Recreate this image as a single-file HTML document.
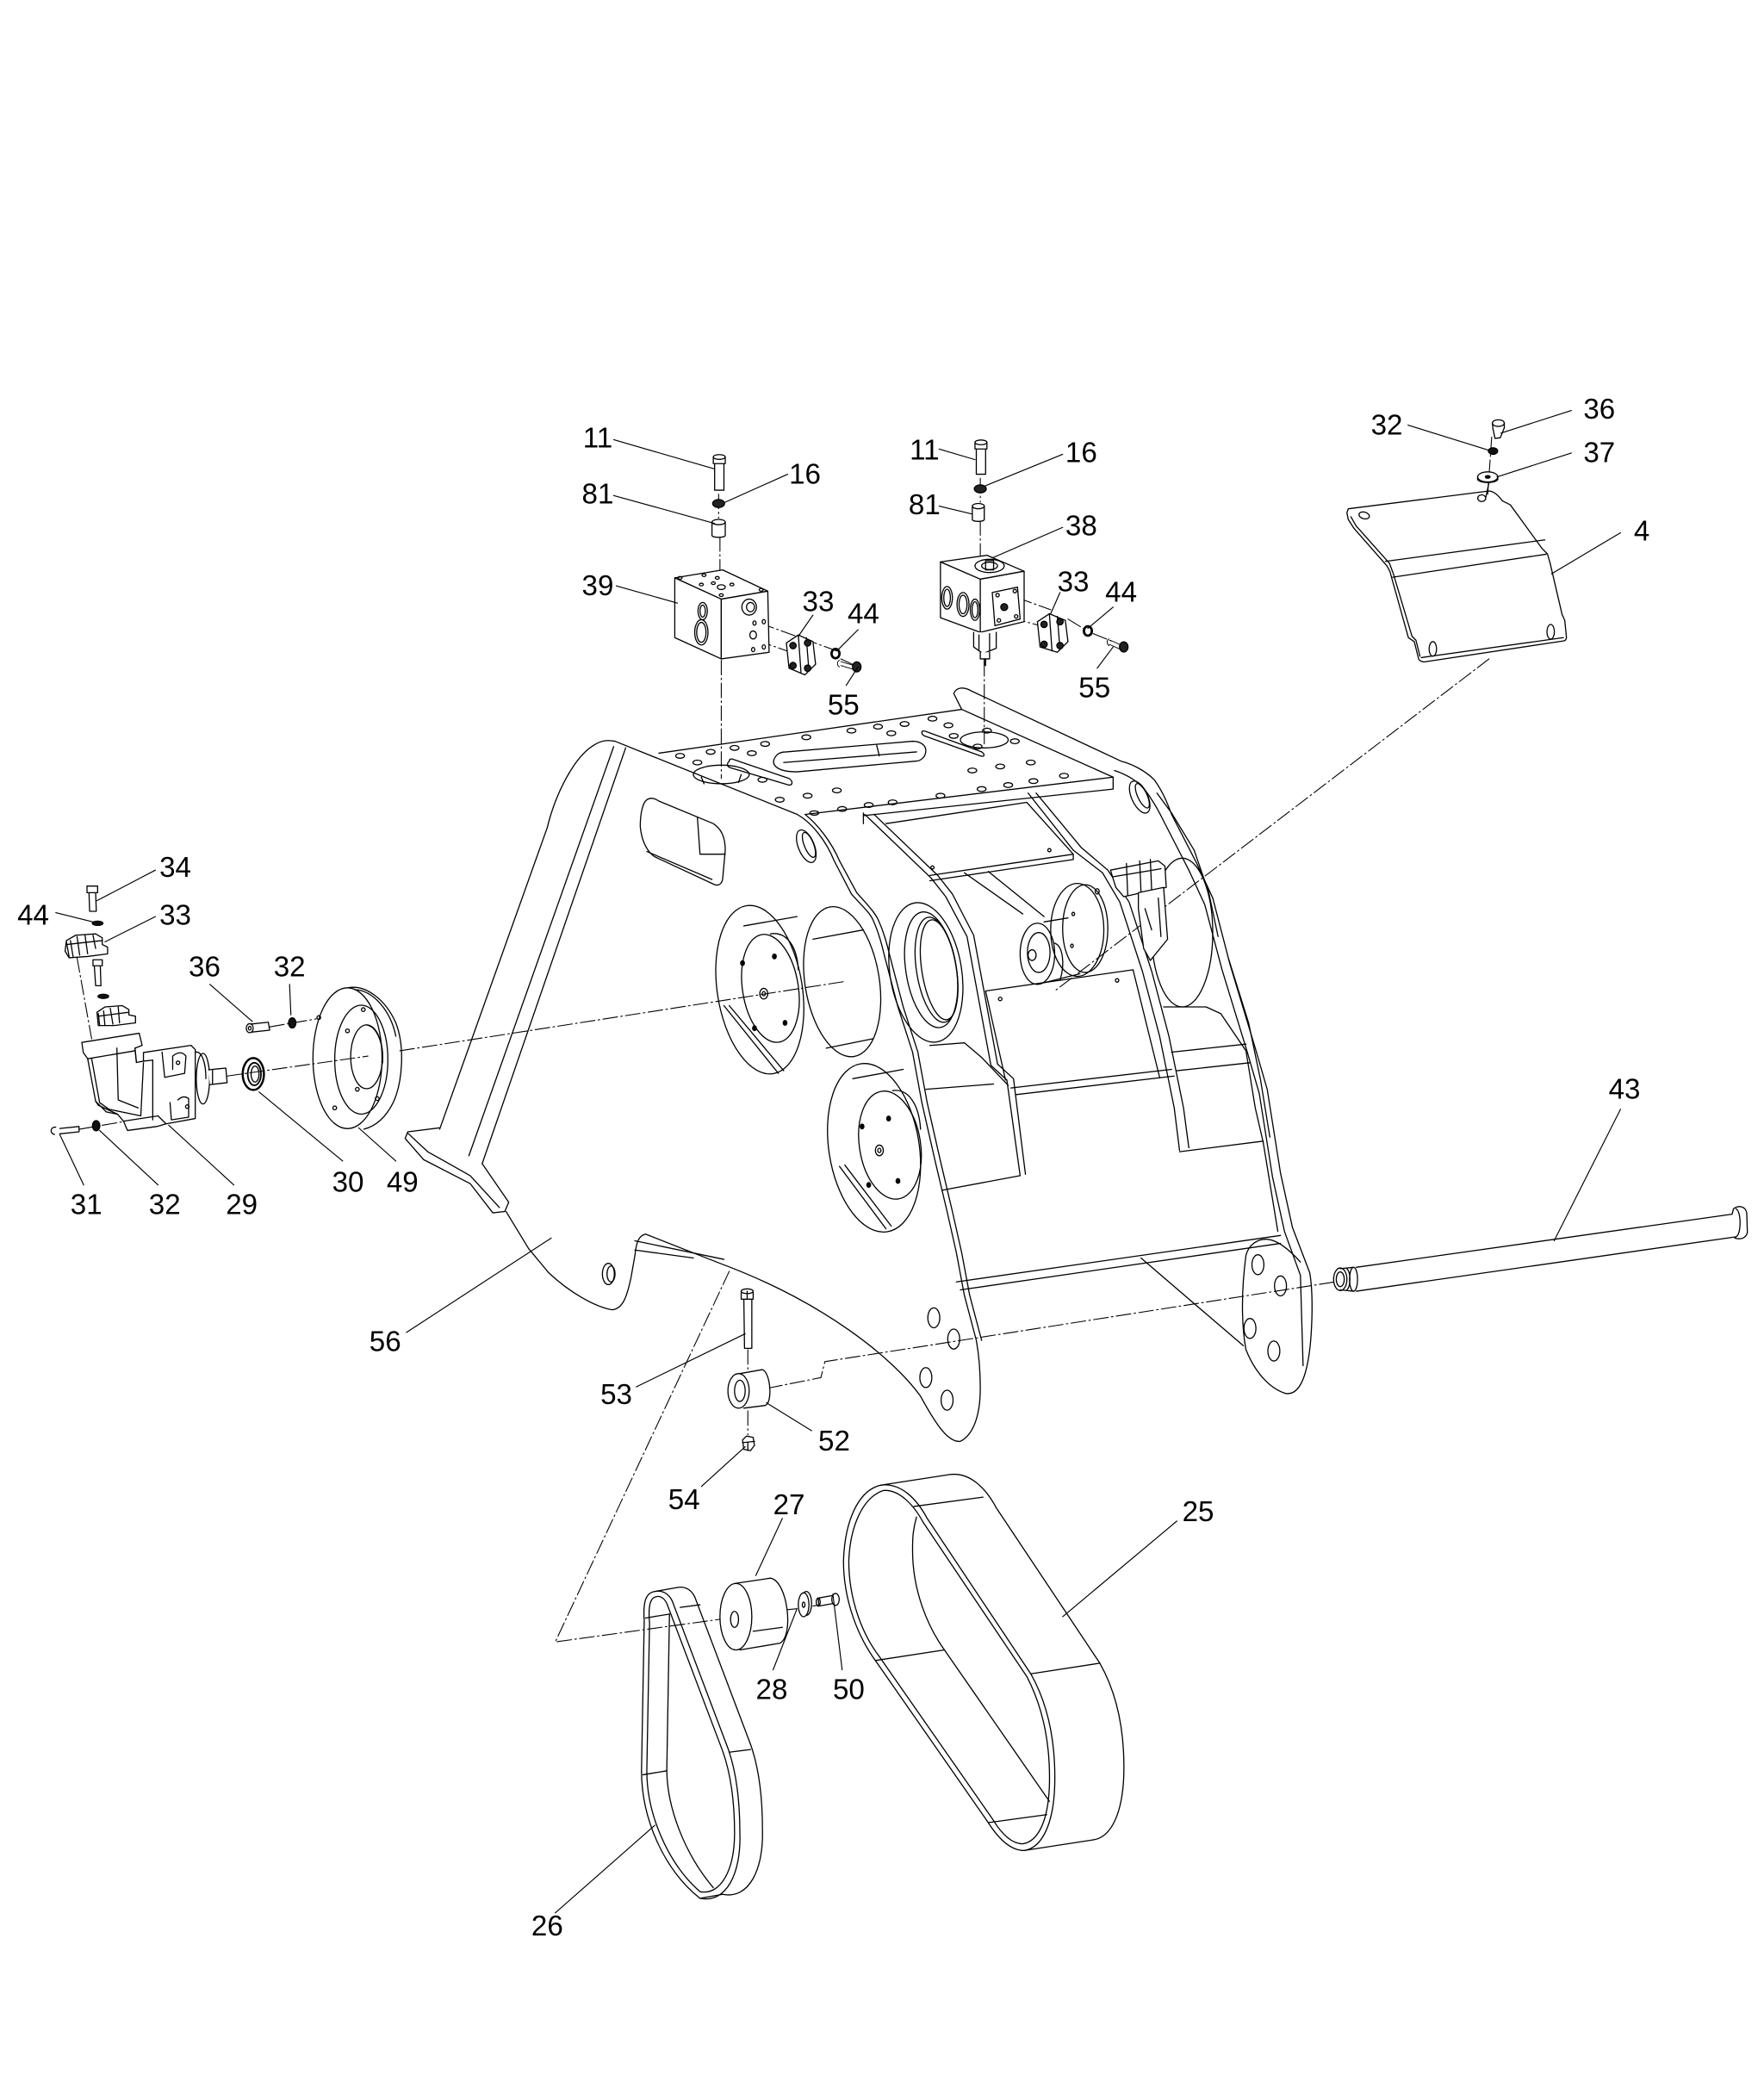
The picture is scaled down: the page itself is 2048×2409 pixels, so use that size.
<!DOCTYPE html>
<html><head><meta charset="utf-8"><style>
html,body{margin:0;padding:0;background:#fff}
svg{display:block}
text{font-family:"Liberation Sans",Arial,sans-serif;font-size:21.5px;fill:#000;text-anchor:middle;stroke:none}
</style></head><body>
<svg xmlns="http://www.w3.org/2000/svg" width="2048" height="2409" viewBox="0 0 1328 1562" preserveAspectRatio="none">
<rect width="1328" height="1562" fill="#fff"/>
<g fill="none" stroke="#000" stroke-width="0.85" stroke-linejoin="round" stroke-linecap="round">

<!-- ================= DASH-DOT CENTER LINES ================= -->
<g stroke-width="0.7" stroke-dasharray="11 2.5 1.2 2.5">
<path d="M541,372 L541,390"/><path d="M542,404 L542,430"/><path d="M543,497 L543,586"/>
<path d="M738,360 L738,378"/><path d="M738,392 L738,418"/><path d="M741,498 L741,560"/>
<path d="M572,469 L630,490"/><path d="M570,482 L598,492"/><path d="M633,496 L646,502"/>
<path d="M766,450 L791,459"/><path d="M804,466 L817,474"/><path d="M823,477 L838,483"/><path d="M761,465 L783,471"/>
<path d="M1121,496 L794,746"/>
<path d="M1123,329 L1120,372"/>
<path d="M171,810 L277,795"/><path d="M301,791 L635,739"/>
<path d="M203,773 L238,767"/>
<path d="M60,850 L95,844"/>
<path d="M58,721 L69,782"/>
<path d="M578,1045 L618,1037 L621,1025 L1005,965"/>
<path d="M549,957 L418,1236 L556,1217"/><path d="M590,1212 L600,1211"/><path d="M612,1209 L618,1208"/>
<path d="M563,1016 L563,1031"/><path d="M563,1062 L563,1080"/>
</g>

<!-- ================= MAIN FRAME ================= -->
<!-- front plate outline -->
<path d="M331,850 L412,623 C418,598 432,570 447,561 C453,557 458,557 463,558 L600,613 C611,619 622,633 628,648 L641,673 C648,681 654,686 657,692 C662,703 664,712 666,720 L676,758 L687,792 L694,830 L704,874 L713,912 L720,943 L726,975 L735,1009 C737,1020 738,1030 738,1045 C738,1065 733,1080 723,1085 C714,1086 705,1073 693,1051 C672,1022 620,980 542,951 L486,929 C481,930 479,935 478,945 L475,962 C472,976 469,985 461,986 C449,984 430,974 413,958 L398,940 L381,912"/>
<path d="M606,613 C616,621 626,634 632,648 L645,672 C652,680 658,686 661,692 C666,703 668,712 670,720 L680,758 L691,792 L698,830 L708,874 L717,912 L724,943 L730,975 L739,1009"/>
<path d="M462,562 L353,870"/><path d="M471,563 L363,876"/>
<!-- foot -->
<path d="M331,849 L307,852 L305,857 L319,873 L354,891 L371,913 L380,912 L383,905 L363,876"/>
<path d="M307,853 L322,867 L354,885 L376,909"/>
<!-- top-left oblong hole -->
<path d="M487,602 C490,600 493,601 496,603 L537,620 C543,624 546,630 546,640 L544,662 C543,667 539,667 536,665 L493,645 C488,642 483,634 482,622 C482,612 484,604 487,602 Z"/>
<path d="M525,615 L527,643 L546,643"/><path d="M487,641 L536,662"/>
<!-- small lug slot -->
<ellipse cx="607" cy="637" rx="6" ry="13" transform="rotate(-22 607 637)"/>
<ellipse cx="609" cy="636" rx="3.5" ry="10" transform="rotate(-22 609 636)"/>
<!-- lower left lug hole -->
<ellipse cx="458" cy="959" rx="4.5" ry="8"/><ellipse cx="460" cy="959" rx="3" ry="6"/>
<path d="M478,934 L545,948"/><path d="M478,941 L522,947"/>
<!-- lower right lug holes of front plate -->
<ellipse cx="703" cy="992" rx="4.5" ry="7.5"/><ellipse cx="718" cy="1008" rx="4.5" ry="7.5"/>
<ellipse cx="697" cy="1037" rx="4.5" ry="7.5"/><ellipse cx="713" cy="1054" rx="4.5" ry="7.5"/>

<!-- big openings -->
<ellipse cx="572" cy="745" rx="32" ry="64" transform="rotate(-9 572 745)"/>
<path d="M545,757 L586,808"/><path d="M549,757 L590,806"/>
<path d="M560,697 L600,690"/>
<ellipse cx="580" cy="744" rx="21" ry="41" transform="rotate(-9 580 744)"/>
<path d="M580,703 C592,701 600,712 601,730"/>
<ellipse cx="575" cy="748" rx="3" ry="4"/><ellipse cx="575" cy="748" rx="1.2" ry="1.6"/>
<ellipse cx="559" cy="725" rx="1.4" ry="1.8" fill="#000"/><ellipse cx="583" cy="720" rx="1.4" ry="1.8" fill="#000"/>
<ellipse cx="568" cy="774" rx="1.4" ry="1.8" fill="#000"/><ellipse cx="591" cy="770" rx="1.4" ry="1.8" fill="#000"/>

<ellipse cx="634" cy="739" rx="28" ry="57" transform="rotate(-9 634 739)"/>
<path d="M612,707 L650,700"/><path d="M622,789 L657,782"/>

<ellipse cx="697" cy="732" rx="27" ry="53" transform="rotate(-9 697 732)"/>
<ellipse cx="701" cy="730" rx="19" ry="44" transform="rotate(-9 701 730)"/>
<ellipse cx="705" cy="730" rx="15" ry="40" transform="rotate(-9 705 730)"/>
<ellipse cx="707" cy="730" rx="13" ry="38" transform="rotate(-9 707 730)"/>

<ellipse cx="658" cy="864" rx="34" ry="64" transform="rotate(-9 658 864)"/>
<path d="M632,878 L667,925"/><path d="M636,877 L671,923"/>
<path d="M642,812 L680,805"/>
<ellipse cx="670" cy="862" rx="23" ry="41" transform="rotate(-9 670 862)"/>
<path d="M672,821 C684,819 692,832 693,850"/>
<ellipse cx="662" cy="866" rx="3" ry="4"/><ellipse cx="662" cy="866" rx="1.2" ry="1.6"/>
<ellipse cx="649" cy="848" rx="1.4" ry="1.8" fill="#000"/><ellipse cx="669" cy="842" rx="1.4" ry="1.8" fill="#000"/>
<ellipse cx="654" cy="892" rx="1.4" ry="1.8" fill="#000"/><ellipse cx="676" cy="889" rx="1.4" ry="1.8" fill="#000"/>

<!-- top plate -->
<path d="M496,567 L724,534 L838,585 L838,594 L650,614"/>
<path d="M607,613 L838,585"/>
<path d="M650,612 L650,620"/>
<!-- top plate slots/holes -->
<path d="M583,571 C585,567 588,566 592,566 L687,558 C693,558 697,561 697,565 C697,570 693,573 689,573 L600,581 C593,581 587,580 584,577 C582,575 582,573 583,571 Z"/>
<path d="M590,574 L690,566"/><path d="M660,561 L662,569"/>
<path d="M549,573 C549,571 551,571 553,572 L594,586 C597,588 597,591 594,591 L550,578 C547,577 547,575 549,573 Z"/>
<path d="M694,551 C694,550 696,550 698,551 L739,566 C742,568 741,570 738,569 L696,554 C694,553 694,552 694,551 Z"/>
<ellipse cx="543" cy="583" rx="21" ry="7"/><path d="M528,585 L530,590 M558,583 L556,589"/>
<ellipse cx="741" cy="557" rx="18" ry="6"/>
<g>
<ellipse cx="512" cy="569" rx="3.3" ry="1.8"/><ellipse cx="525" cy="574" rx="3.3" ry="1.8"/><ellipse cx="535" cy="566" rx="3.3" ry="1.8"/>
<ellipse cx="553" cy="563" rx="3.3" ry="1.8"/><ellipse cx="566" cy="567" rx="3.3" ry="1.8"/><ellipse cx="576" cy="560" rx="3.3" ry="1.8"/>
<ellipse cx="607" cy="555" rx="3.3" ry="1.8"/><ellipse cx="641" cy="550" rx="3.3" ry="1.8"/><ellipse cx="661" cy="547" rx="3.3" ry="1.8"/>
<ellipse cx="671" cy="552" rx="3.3" ry="1.8"/><ellipse cx="681" cy="545" rx="3.3" ry="1.8"/><ellipse cx="702" cy="541" rx="3.3" ry="1.8"/>
<ellipse cx="714" cy="546" rx="3.3" ry="1.8"/><ellipse cx="718" cy="554" rx="3.3" ry="1.8"/><ellipse cx="743" cy="550" rx="3.3" ry="1.8"/>
<ellipse cx="764" cy="558" rx="3.3" ry="1.8"/><ellipse cx="736" cy="562" rx="3.3" ry="1.8"/><ellipse cx="732" cy="580" rx="3.3" ry="1.8"/>
<ellipse cx="753" cy="577" rx="3.3" ry="1.8"/><ellipse cx="776" cy="574" rx="3.3" ry="1.8"/><ellipse cx="801" cy="584" rx="3.3" ry="1.8"/>
<ellipse cx="778" cy="588" rx="3.3" ry="1.8"/><ellipse cx="759" cy="591" rx="3.3" ry="1.8"/><ellipse cx="739" cy="594" rx="3.3" ry="1.8"/>
<ellipse cx="708" cy="599" rx="3.3" ry="1.8"/><ellipse cx="672" cy="604" rx="3.3" ry="1.8"/><ellipse cx="654" cy="606" rx="3.3" ry="1.8"/>
<ellipse cx="634" cy="609" rx="3.3" ry="1.8"/><ellipse cx="613" cy="612" rx="3.3" ry="1.6"/><ellipse cx="587" cy="602" rx="3.3" ry="1.8"/>
<ellipse cx="608" cy="599" rx="3.3" ry="1.8"/><ellipse cx="630" cy="595" rx="3.3" ry="1.8"/><ellipse cx="574" cy="587" rx="3.3" ry="1.8"/>
</g>

<!-- right side plate -->
<path d="M724,534 L718,522 C720,517 726,517 731,520 L844,573 C852,575 862,580 869,587 C876,597 879,605 882,613 L901,650 L913,676 L926,726 L945,789 L954,820 L964,883 L973,924 L986,958 C989,975 988,1010 984,1028 C981,1042 976,1050 968,1049 C958,1046 946,1036 938,1016 C935,1000 934,975 938,945 C940,937 947,932 955,933 C962,934 970,940 979,950"/>
<path d="M839,580 C848,583 857,588 863,596 C870,606 873,612 876,618 L895,655 L907,681 L920,730 L939,792 L948,823 L958,886 L967,927 L979,960 L981,1028"/>
<path d="M871,597 L882,612 L899,640 L910,672 L917,705"/>
<path d="M925,722 L940,770 L949,813 L956,856"/>
<ellipse cx="858" cy="600" rx="6" ry="13" transform="rotate(-25 858 600)"/>
<ellipse cx="860" cy="599" rx="3.5" ry="10" transform="rotate(-25 860 599)"/>
<ellipse cx="947" cy="952" rx="4.5" ry="7.5"/><ellipse cx="964" cy="968" rx="4.5" ry="7.5"/>
<ellipse cx="941" cy="1000" rx="4.5" ry="7.5"/><ellipse cx="959" cy="1017" rx="4.5" ry="7.5"/>
<path d="M859,947 L936,1013"/>
<!-- back plate circle opening -->
<ellipse cx="890" cy="702" rx="23" ry="56"/>

<!-- inner plates -->
<path d="M651,613 L701,661 L712,675 L728,705 L746,802 L758,813 L768,885"/>
<path d="M658,613 L706,659 L717,673 L733,704 L751,801 L763,812 L772,884"/>
<path d="M774,597 L808,640 L830,657 L843,679 L860,731 L873,780 L884,834 L888,866"/>
<path d="M780,597 L814,638 L834,655 L850,679 L867,731 L880,780 L891,834 L895,864"/>
<!-- shelf -->
<path d="M667,620 L773,604"/>
<path d="M700,659 L808,643 L808,647 L700,663"/>
<path d="M773,604 L808,643"/>
<ellipse cx="702" cy="653" rx="1.2" ry="1.2"/><ellipse cx="790" cy="640" rx="1.2" ry="1.2"/>
<!-- belt + pulley inside -->
<path d="M770,688 L726,657"/><path d="M786,690 L744,656"/>
<path d="M786,694 L804,691"/><path d="M785,740 L813,733"/>
<ellipse cx="811" cy="700" rx="20" ry="35"/>
<ellipse cx="817" cy="699" rx="17" ry="33"/>
<ellipse cx="808" cy="688" rx="1" ry="1.3"/><ellipse cx="807" cy="712" rx="1" ry="1.3"/><ellipse cx="826" cy="671" rx="1.5" ry="2"/>
<ellipse cx="781" cy="718" rx="13" ry="23"/>
<ellipse cx="782" cy="717" rx="8.5" ry="15"/>
<ellipse cx="777" cy="719" rx="3" ry="4"/>
<path d="M794,710 C800,712 802,725 798,738"/>
<!-- lower shelf / beam -->
<path d="M742,746 L853,730 L873,811"/>
<path d="M742,746 L757,813"/>
<ellipse cx="753" cy="752" rx="1.3" ry="1.3"/><ellipse cx="841" cy="738" rx="1.3" ry="1.3"/>
<path d="M700,787 L726,785 L739,796 L759,817"/>
<path d="M697,820 L748,816"/>
<path d="M761,819 L882,805"/><path d="M765,824 L884,810"/>
<path d="M709,896 L768,885"/>
<path d="M876,758 L908,758 L919,763 L938,791 L945,834 L951,860"/>
<path d="M882,792 L938,786"/><path d="M886,806 L941,800"/>
<path d="M888,867 L951,859"/>
<path d="M951,860 L962,927"/>
<path d="M720,965 L964,930"/><path d="M723,971 L964,936"/>
<!-- right pump inside -->
<path d="M836,655 L872,648 L877,652 L878,668 L846,675 L840,668 Z" fill="#fff"/>
<path d="M838,660 L874,654 M848,650 L849,674 M858,648 L859,672 M866,647 L867,670"/>
<path d="M857,672 L876,668 L879,707 L866,723 L861,714 L857,684 Z" fill="#fff"/>
<path d="M862,684 L867,700 M872,676 L874,705"/>

<!-- ================= VALVE BLOCK 39 + HARDWARE ================= -->
<path d="M508,435 L544,429 L578,445 L543,451 Z" fill="#fff"/>
<path d="M508,435 L543,451 L543,496 L508,480 Z" fill="#fff"/>
<path d="M543,451 L578,445 L579,491 L543,496 Z" fill="#fff"/>
<ellipse cx="529" cy="460" rx="3.5" ry="6.5"/><ellipse cx="529" cy="460" rx="2" ry="4.5"/>
<ellipse cx="528" cy="476" rx="5" ry="9.5"/><ellipse cx="528" cy="476" rx="3.5" ry="7.5"/>
<ellipse cx="564" cy="457" rx="5.5" ry="6"/><ellipse cx="565" cy="457" rx="3" ry="3.5"/>
<ellipse cx="568" cy="469" rx="1.2" ry="1.6"/><ellipse cx="575" cy="468" rx="1.2" ry="1.6"/>
<ellipse cx="567" cy="478" rx="2.5" ry="3"/><ellipse cx="567" cy="489" rx="1.2" ry="1.6"/><ellipse cx="575" cy="487" rx="1.2" ry="1.6"/>
<ellipse cx="530" cy="433" rx="1.5" ry="1"/><ellipse cx="540" cy="435" rx="1.5" ry="1"/><ellipse cx="528" cy="440" rx="1.5" ry="1"/>
<ellipse cx="537" cy="439" rx="1.5" ry="1"/><ellipse cx="543" cy="442" rx="3" ry="1.8"/><ellipse cx="551" cy="440" rx="1.5" ry="1"/>
<ellipse cx="573" cy="444" rx="1.5" ry="1"/><ellipse cx="543" cy="448" rx="1.5" ry="1"/><ellipse cx="512" cy="435" rx="1.5" ry="1"/>
<!-- bolt 11 -->
<path d="M538,349 L538,369 L545,369 L545,349" fill="#fff"/>
<path d="M537,344 L537,349 L546,349 L546,344" fill="#fff"/>
<ellipse cx="541.5" cy="344" rx="4.5" ry="1.8" fill="#fff"/>
<ellipse cx="541" cy="379" rx="4.5" ry="3" fill="#222"/>
<path d="M536,393 L536,403 C536,405 546,405 546,403 L546,393" fill="#fff"/>
<ellipse cx="541" cy="393" rx="5" ry="2"/>
<!-- flange 33 -->
<path d="M592,484 L601,478 L612,483 L614,500 L606,508 L594,503 Z" fill="#fff"/>
<path d="M601,478 L603,506 M607,480 L609,505"/>
<circle cx="597" cy="486" r="2.4" fill="#222"/><circle cx="608" cy="484" r="2.4" fill="#222"/>
<circle cx="597" cy="501" r="2.4" fill="#222"/><circle cx="608" cy="503" r="2.4" fill="#222"/>
<ellipse cx="629" cy="492" rx="3" ry="3.5" stroke-width="1.8"/>
<path d="M633,498 L643,501 M633,501 L643,504" stroke-width="0.6"/>
<path d="M632,497 C630,498 630,501 632,502" stroke-width="0.6"/>
<ellipse cx="645" cy="502" rx="3.2" ry="3.8" fill="#222"/>

<!-- ================= VALVE BLOCK 38 + HARDWARE ================= -->
<path d="M708,423 L743,418 L771,430 L738,436 Z" fill="#fff"/>
<path d="M708,423 L738,436 L738,476 L708,465 Z" fill="#fff"/>
<path d="M738,436 L771,430 L771,468 L738,476 Z" fill="#fff"/>
<ellipse cx="745" cy="426" rx="11" ry="5"/><ellipse cx="745" cy="426" rx="6" ry="2.8"/>
<path d="M742,422 L748,422 L748,429 L742,429 Z"/>
<ellipse cx="713" cy="450" rx="4" ry="8.5"/><ellipse cx="713" cy="450" rx="2.5" ry="6.5"/>
<ellipse cx="725" cy="455" rx="4.5" ry="9"/><ellipse cx="725" cy="455" rx="3" ry="7"/>
<ellipse cx="734" cy="459" rx="3.5" ry="8"/><ellipse cx="734" cy="459" rx="2.2" ry="6"/>
<path d="M747,446 L766,442 L768,466 L749,471 Z" fill="#fff"/>
<circle cx="751" cy="448" r="1.3"/><circle cx="764" cy="445" r="1.3"/><circle cx="752" cy="467" r="1.3"/><circle cx="765" cy="464" r="1.3"/>
<circle cx="756" cy="457" r="2.6" fill="#222"/>
<path d="M733,476 L733,487 L740,492 L750,488 L750,476" fill="#fff"/>
<path d="M737,478 L737,489 M745,477 L745,490"/>
<path d="M738,491 L738,496 L745,496 L745,491" fill="#fff"/>
<path d="M741,496 L741,501 M742,496 L742,501"/>
<!-- bolt 11 right -->
<path d="M735,337 L735,357 L742,357 L742,337" fill="#fff"/>
<path d="M734,333 L734,338 L743,338 L743,333" fill="#fff"/>
<ellipse cx="738.5" cy="333" rx="4.5" ry="1.8" fill="#fff"/>
<ellipse cx="738" cy="368" rx="4.5" ry="3" fill="#222"/>
<path d="M732,381 L732,391 C732,393 741,393 741,391 L741,381" fill="#fff"/>
<ellipse cx="736.5" cy="381" rx="4.5" ry="2"/>
<!-- flange 33 right -->
<path d="M781,468 L790,462 L802,467 L804,483 L796,491 L783,487 Z" fill="#fff"/>
<path d="M790,462 L792,490 M796,464 L798,489"/>
<circle cx="786" cy="470" r="2.4" fill="#222"/><circle cx="798" cy="468" r="2.4" fill="#222"/>
<circle cx="786" cy="485" r="2.4" fill="#222"/><circle cx="798" cy="486" r="2.4" fill="#222"/>
<ellipse cx="819" cy="475" rx="3" ry="3.5" stroke-width="1.8"/>
<path d="M836,482 L845,486 M835,485 L844,489" stroke-width="0.6"/>
<path d="M835,481 C833,482 833,485 835,486" stroke-width="0.6"/>
<ellipse cx="846" cy="487" rx="3.2" ry="3.8" fill="#222"/>

<!-- ================= PLATE 4 + HARDWARE ================= -->
<path d="M1014,386 L1015,383 L1121,369.6 C1125,370 1128,373 1131,377 L1137,380 L1161,413 L1165,417 L1167,424 L1176,462.6 L1178,467 L1179.3,479.9 C1179,482 1178,482.5 1177,482.5 L1072,498.3 C1070,498 1068.5,497.5 1068,496 L1064.7,483 L1060.3,480 L1046.3,430 L1044,425.8 L1019.3,397.7 L1015,391 Z"/>
<path d="M1017,389 L1021,396 L1046,424 L1049,432 L1063,479 L1066,482 L1069,494"/>
<path d="M1070,495 L1177,480"/>
<path d="M1043,422.6 L1163,406.4"/><path d="M1048.5,434.5 L1164,417.2"/>
<ellipse cx="1027" cy="388" rx="4" ry="2.5" transform="rotate(15 1027 388)"/>
<ellipse cx="1115.5" cy="375" rx="3" ry="2.5"/>
<ellipse cx="1078.7" cy="488.5" rx="2.8" ry="5.5"/>
<ellipse cx="1167.4" cy="475.6" rx="2.8" ry="5.5"/>
<path d="M1124,323 L1125.5,330 L1129.5,329.5 L1132.5,322" fill="#fff"/>
<ellipse cx="1128" cy="318.5" rx="4.5" ry="2.5" fill="#fff"/>
<path d="M1123.5,318.5 L1124,323 M1132.5,318.5 L1132.5,322"/>
<ellipse cx="1124" cy="339.5" rx="3.5" ry="2.5" fill="#111"/>
<ellipse cx="1120" cy="359" rx="7.6" ry="3.8" fill="#fff"/>
<path d="M1112.4,359 L1112.4,361 C1114,364 1126,364 1127.6,361 L1127.6,359"/>
<ellipse cx="1120" cy="359" rx="1.8" ry="1" fill="#111"/>
<path d="M1121,363 L1118.7,374"/>

<!-- ================= LEFT PUMP ASSEMBLY ================= -->
<!-- bolt 34 -->
<path d="M67,672 L67.5,686 L72.5,686 L72,672" fill="#fff"/>
<path d="M65.5,667 L65.5,672 L73.5,672 L73.5,667 Z" fill="#fff"/>
<ellipse cx="73.5" cy="695" rx="4" ry="1.6" fill="#111"/>
<!-- flange 33 top -->
<path d="M50,708 L57,704 L72,703 L77,706 L77,711 L81,713 L81,718 L66,720 L52,721 L49,716 Z" fill="#fff"/>
<path d="M50,709 L52,720 M53,708 L55,720 M58,705 L60,719 M64,704 L66,718 M70,704 L72,714"/>
<path d="M50,711 L77,708"/>
<!-- bolt 2 -->
<path d="M71,727 L72,742 L76,742 L75.5,727" fill="#fff"/>
<path d="M70,722.5 L70,727 L77,727 L77,722.5 Z" fill="#fff"/>
<ellipse cx="77.8" cy="750" rx="4" ry="1.6" fill="#111"/>
<!-- flange 2 -->
<path d="M73,762 L79,758 L92,757 L97,760 L97,764 L102,765 L102,770 L86,772 L74,772 Z" fill="#fff"/>
<path d="M74,763 L75,772 M78,761 L79,772 M83,759 L85,771 M89,758 L90,770"/>
<path d="M74,765 L97,762"/>
<!-- pump 29 -->
<path d="M61.6,784.7 L104.8,777.8 L107,786.9 L101.6,789 L102.7,799.8 L108,798.8 L108,792.3 L143.8,786.9 L147,790.1 L147,842 L125,846 L118,848 L96,851 L93,844 L88.6,838.8 L74,832 L72,829 L66,797 L62.7,792.3 Z" fill="#fff"/>
<path d="M66,797 L101.6,791"/>
<path d="M72,829 L80,837 L88.6,838.8"/>
<path d="M69,797 L75,830 L82,835 L106,840 L108,800"/>
<path d="M88,789 L89,828 L104,834"/>
<path d="M101.6,789 L102.7,799.8"/>
<path d="M108,798.8 L115,798 L115,843"/>
<path d="M122,792 L124,811 L139,808 L140,795 Q136,790 130,795 L130,805"/>
<path d="M128,830 L129,843 L142,841 L142,827 Q138,824 134,828"/>
<circle cx="134" cy="800" r="1.3"/><circle cx="141" cy="833" r="1.3"/>
<path d="M93,844 L119,840 L125,846"/>
<ellipse cx="152.8" cy="812" rx="5" ry="19"/>
<path d="M147,792 C152,791 155,800 155,812"/>
<path d="M157,805.3 L170,804 L171,815 L158,816.5" fill="#fff"/>
<path d="M160,805 L160,816"/>
<!-- screw 36 + washer 32 -->
<path d="M188,771 L202,769.5 L203,775.5 L189,777" fill="#fff"/>
<ellipse cx="188" cy="774" rx="2.6" ry="3.4" fill="#fff"/>
<ellipse cx="188" cy="774" rx="1" ry="1.4"/>
<ellipse cx="220" cy="770" rx="2.8" ry="3.8" fill="#111"/>
<!-- pin 31 + washer 32 -->
<path d="M42,848.5 C38,848 37,853 41,854"/>
<path d="M45,849.5 L59.5,848 L59.5,852 L45,853.5"/>
<ellipse cx="72.4" cy="847.4" rx="2.8" ry="3.8" fill="#111"/>
<!-- seal 30 -->
<ellipse cx="190.7" cy="808.5" rx="8" ry="12" stroke-width="1.6"/>
<ellipse cx="191.5" cy="808.5" rx="5" ry="8.5" stroke-width="1.2"/>
<ellipse cx="192" cy="808.5" rx="3" ry="6"/>
<!-- flange 49 -->
<ellipse cx="261.6" cy="796.6" rx="26" ry="53"/>
<path d="M262,743.6 C275,741 290,752 298,770 C305,788 303,815 296,830 C290,842 282,848 274,850"/>
<path d="M267,745 C280,745 294,760 298,780"/>
<ellipse cx="272" cy="797.7" rx="20" ry="41"/>
<ellipse cx="276" cy="795.5" rx="12" ry="24"/>
<path d="M276,771.5 C284,773 289,786 288,800"/>
<circle cx="240" cy="766" r="1.4"/><circle cx="273.5" cy="760" r="1.4"/><circle cx="261.6" cy="776" r="1.4"/>
<circle cx="269" cy="820" r="1.4"/><circle cx="284" cy="827" r="1.4"/><circle cx="252" cy="834" r="1.4"/>

<!-- ================= LOWER SMALL PARTS ================= -->
<!-- bolt 53 -->
<path d="M560,978 L560.5,1015 L566,1015 L566,978" fill="#fff"/>
<path d="M558,972 L558,978 L567,978 L567,972 Z" fill="#fff"/>
<ellipse cx="562.5" cy="972" rx="4.5" ry="1.8" fill="#fff"/>
<path d="M562.5,972 L562.5,978"/>
<!-- bushing 52 -->
<path d="M557,1034 L574,1031 C580,1033 582,1056 576,1058 L560,1060" fill="#fff"/>
<ellipse cx="556" cy="1047" rx="8" ry="13" fill="#fff"/>
<ellipse cx="557" cy="1047" rx="4" ry="8"/>
<!-- nut 54 -->
<path d="M559,1084 L562,1081 L567,1082 L568,1088 L565,1092 L560,1091 Z" fill="#fff"/>
<path d="M559,1086 L568,1085 M563,1086 L563,1092"/>
<!-- pulley 27 -->
<path d="M553,1192 L580,1188 C593,1190 598,1232 587,1237 L557,1242" fill="#fff"/>
<ellipse cx="554" cy="1217" rx="12" ry="25" fill="#fff"/>
<path d="M567,1228 L589,1225"/>
<ellipse cx="553" cy="1219" rx="3" ry="6"/>
<!-- washer 28 -->
<ellipse cx="607" cy="1207" rx="4" ry="9" fill="#fff"/>
<ellipse cx="605" cy="1208" rx="4" ry="9" fill="#fff"/>
<ellipse cx="605" cy="1208" rx="1" ry="2"/>
<!-- bolt 50 -->
<path d="M616,1203 L627,1201 L627.5,1207 L616.5,1209 Z" fill="#fff"/>
<ellipse cx="616" cy="1206" rx="1.5" ry="3"/>
<ellipse cx="629" cy="1204" rx="2.8" ry="4.5" fill="#fff"/>

<!-- ================= SHAFT 43 ================= -->
<path d="M1021,954 L1304,914"/><path d="M1021,972 L1307,931"/>
<path d="M1304,914 L1305,910 C1309,907 1314,908 1315,913 L1315.5,928 C1314,933 1309,933 1306,932 L1307,931"/>
<path d="M1307,910 C1311,912 1311,929 1307,931"/>
<ellipse cx="1019" cy="963" rx="3" ry="9"/>
<path d="M1009,955 L1019,954 M1009,971 L1019,972"/>
<ellipse cx="1009" cy="963" rx="5" ry="8.5"/>
<ellipse cx="1009" cy="963" rx="3" ry="5.5"/>
<path d="M1014,955 C1017,958 1017,968 1014,971"/>

<!-- ================= BELT 25 ================= -->
<path d="M663,1118 C646,1122 636,1145 635,1175 C635,1205 646,1232 659,1250 L744,1372 C751,1383 760,1393 771,1393 C785,1391 793,1372 794,1345 C795,1312 789,1283 776,1260 L698,1143 C690,1128 678,1116 663,1118 Z"/>
<path d="M665,1122 C650,1127 640,1148 639,1175 C639,1204 649,1230 662,1247 L747,1369 C753,1379 761,1388 770,1388 C782,1386 789,1370 790,1345 C791,1313 785,1285 773,1262 L695,1146 C688,1133 677,1121 665,1122 Z"/>
<path d="M690,1142 C687,1152 687,1160 687,1167 C687,1197 698,1224 711,1242 L790,1356"/>
<path d="M715,1110 C730,1108 742,1120 750,1135 L828,1252 C841,1275 847,1304 846,1337 C845,1364 837,1383 823,1385"/>
<path d="M663,1118 L715,1110"/><path d="M771,1393 L823,1385"/>
<path d="M688,1134 L740,1127"/><path d="M659,1250 L711,1242"/>
<path d="M776,1260 L828,1252"/><path d="M744,1372 L788,1366"/>

<!-- ================= BELT 26 ================= -->
<path d="M493,1198 C486,1199 484,1206 485,1220 L483,1330 C482,1368 500,1408 527,1429 C547,1433 558,1410 557,1380 C557,1350 553,1330 548,1316 L506,1205 C503,1199 498,1197 493,1198 Z"/>
<path d="M494,1202 C489,1203 488,1210 489,1222 L487,1330 C486,1365 503,1403 527,1424 C543,1427 553,1407 553,1380 C553,1352 549,1332 544,1318 L502,1207 C500,1203 497,1201 494,1202 Z"/>
<path d="M504,1215 L502,1332 C502,1360 515,1395 537,1421"/>
<path d="M510,1195 C515,1194 520,1196 523,1202 L565,1313 C570,1327 574,1347 574,1377 C575,1407 564,1430 544,1426"/>
<path d="M493,1198 L510,1195"/><path d="M486,1218 L504,1215"/>
<path d="M484,1336 L502,1333"/><path d="M512,1210 L527,1208"/>
<path d="M549,1319 L565,1317"/><path d="M527,1429 L544,1426"/>

<!-- ================= LEADER LINES ================= -->
<g stroke-width="0.75">
<path d="M462,331 L538,353"/><path d="M593,357 L546,378"/><path d="M462,373 L538,394"/>
<path d="M464,441 L510,454"/><path d="M612,463 L601,479"/><path d="M646,474 L631,489"/><path d="M637,516 L646,502"/>
<path d="M707,338 L734,346"/><path d="M800,342 L741,366"/><path d="M707,381 L732,387"/>
<path d="M800,397 L747,420"/><path d="M798,446 L791,462"/><path d="M838,457 L819,473"/><path d="M826,503 L838,487"/>
<path d="M1060,320 L1121,339"/><path d="M1183,309 L1130,326"/><path d="M1183,341 L1127,359"/><path d="M1220,401 L1168,432"/>
<path d="M117,655 L73,678"/><path d="M42,687 L70,694"/><path d="M117,690 L79,709"/>
<path d="M158,741 L190,769"/><path d="M218,741 L219,764"/>
<path d="M63,892 L45,854"/><path d="M119,892 L75,851"/><path d="M176,892 L127,847"/>
<path d="M258,874 L195,822"/><path d="M298,874 L270,849"/>
<path d="M306,1003 L415,932"/>
<path d="M1220,835 L1170,934"/>
<path d="M479,1044 L561,1004"/><path d="M611,1077 L577,1056"/><path d="M528,1119 L561,1089"/>
<path d="M589,1143 L569,1186"/><path d="M582,1257 L600,1211"/><path d="M634,1257 L627,1200"/>
<path d="M886,1145 L800,1217"/>
<path d="M418,1440 L493,1374"/>
</g>
</g>

<!-- ================= LABELS ================= -->
<g>
<text x="450" y="337">11</text>
<text x="606" y="364">16</text>
<text x="450" y="379">81</text>
<text x="450" y="448">39</text>
<text x="616" y="460">33</text>
<text x="650" y="469">44</text>
<text x="635" y="538">55</text>
<text x="696" y="346">11</text>
<text x="814" y="348">16</text>
<text x="696" y="387">81</text>
<text x="814" y="403">38</text>
<text x="808" y="445">33</text>
<text x="844" y="453">44</text>
<text x="824" y="525">55</text>
<text x="1044" y="327">32</text>
<text x="1204" y="315">36</text>
<text x="1204" y="348">37</text>
<text x="1236" y="407">4</text>
<text x="132" y="660">34</text>
<text x="25" y="696">44</text>
<text x="132" y="696">33</text>
<text x="154" y="735">36</text>
<text x="218" y="735">32</text>
<text x="65" y="914">31</text>
<text x="124" y="914">32</text>
<text x="182" y="914">29</text>
<text x="262" y="897">30</text>
<text x="303" y="897">49</text>
<text x="290" y="1017">56</text>
<text x="1223" y="827">43</text>
<text x="464" y="1057">53</text>
<text x="628" y="1092">52</text>
<text x="515" y="1136">54</text>
<text x="594" y="1140">27</text>
<text x="581" y="1279">28</text>
<text x="639" y="1279">50</text>
<text x="902" y="1145">25</text>
<text x="412" y="1457">26</text>
</g>
</svg>
</body></html>
